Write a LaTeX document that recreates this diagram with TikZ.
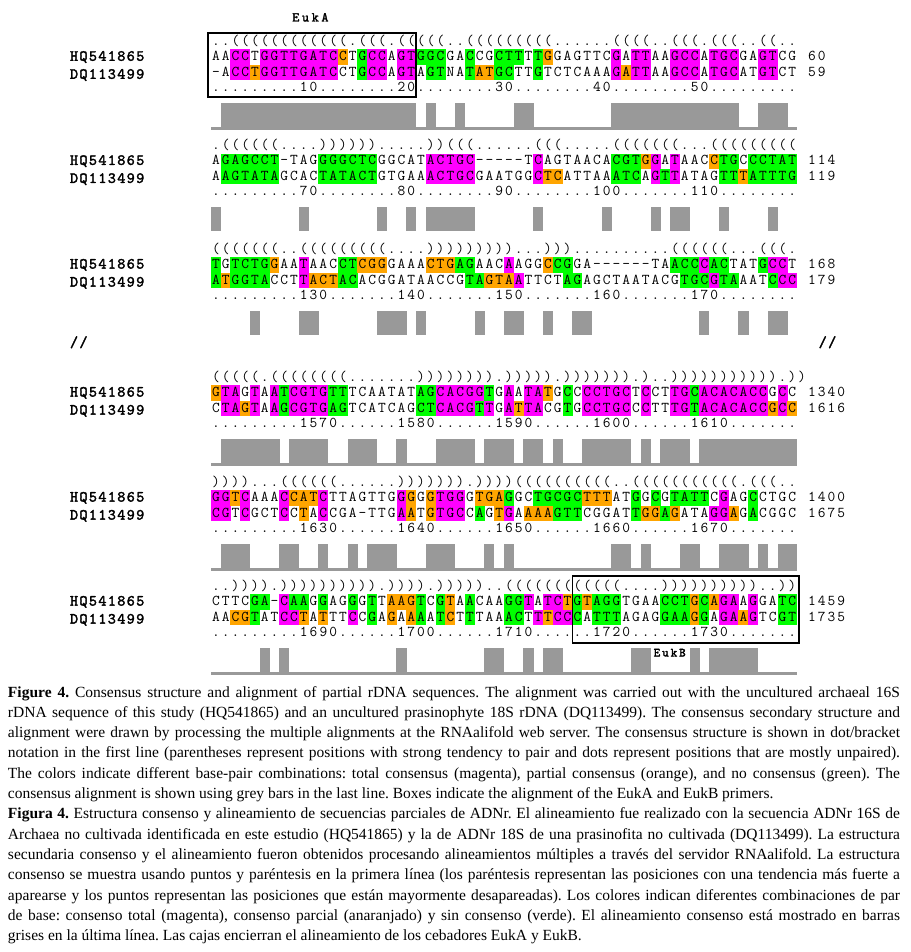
\documentclass[tikz,border=0pt]{standalone}
\usepackage{fontspec}
\setmainfont{Liberation Serif}
\newfontfamily\boldmono{lmmono10-regular.otf}[FakeBold=2.2]
\definecolor{magc}{RGB}{255,0,255}
\definecolor{orac}{RGB}{255,165,0}
\definecolor{grnc}{RGB}{0,255,0}
\definecolor{barc}{RGB}{153,153,153}
\newlength\cw \setlength\cw{9.77pt}
\def\xs{211}
\def\cwn{9.77}
\def\spacedend{\spacedend}
\def\spacedi#1{\ifx#1\spacedend\else\makebox[\cw]{#1}\expandafter\spacedi\fi}
\def\spaced#1{\spacedi#1\spacedend}
\def\spacedw#1#2{\setlength\cw{#1}\spacedi#2\spacedend}
\newcount\cc
\def\popc#1#2\popend{\def\pc{#1}\def\prest{#2}}
\def\nonecol{none}
\def\cellrow#1#2{%
  \edef\prest{#2..........}\cc=0
  \loop
    \expandafter\popc\prest\popend
    \if\pc m\def\cellcol{magc}\else\if\pc o\def\cellcol{orac}\else\if\pc g\def\cellcol{grnc}\else\def\cellcol{none}\fi\fi\fi
    \ifx\cellcol\nonecol\else
      \fill[fill=\cellcol] ({\xs+\cwn*\the\cc-0.1},{-(#1)}) rectangle ++(\cwn+0.2,-15.4);
    \fi
    \advance\cc by 1
  \ifnum\cc<60 \repeat}
\def\barrow#1#2#3{%
  \edef\prA{#2..........}\edef\prB{#3,,,,,,,,,,}\cc=0
  \loop
    \expandafter\popc\prA\popend \let\ca\pc \let\prA\prest
    \expandafter\popc\prB\popend \let\cb\pc \let\prB\prest
    \if\ca\cb
      \fill[barc] ({\xs+\cwn*\the\cc-0.15},{-(#1)}) rectangle ++(\cwn+0.3,-23.5);
    \fi
    \advance\cc by 1
  \ifnum\cc<60 \repeat}
\def\seqfont{\fontsize{15}{15}\selectfont\ttfamily}
\def\labfont{\fontsize{15.5}{16}\selectfont\boldmono}
\def\capfont{\fontsize{15.5}{20.3}\selectfont\frenchspacing}
\newcommand\drawblock[3]{%
  \cellrow{#1-7.7}{\Bca}%
  \cellrow{#1+7.7}{\Bcb}%
  \barrow{#1+46}{\Bsa}{\Bsb}%
  \ifnum#3=1 \fill[barc] (\xs,{-(#1+69.5)}) rectangle ({\xs+60*\cwn},{-(#1+73)});\fi
  \node[seqtxt] (#2struct) at (\xs,{-(#1+3.6-15.4)}) {\expandafter\spaced\expandafter{\Bst}};
  \node[seqtxt] (#2seqa) at (\xs,{-(#1+3.6)}) {\expandafter\spaced\expandafter{\Bsa}};
  \node[seqtxt] (#2seqb) at (\xs,{-(#1+3.6+15.4)}) {\expandafter\spaced\expandafter{\Bsb}};
  \node[seqtxt] (#2num) at (\xs,{-(#1+3.6+30.8)}) {\expandafter\spaced\expandafter{\Bnum}};
  \node[seqtxt] (#2ra) at ({\xs+61*\cwn},{-(#1+3.6)}) {\expandafter\spaced\expandafter{\Bra}};
  \node[seqtxt] (#2rb) at ({\xs+61*\cwn},{-(#1+3.6+15.4)}) {\expandafter\spaced\expandafter{\Brb}};
  \node[labtxt] (#2la) at (69.3,{-(#1+3.6)}) {\spacedw{9.46pt}{HQ541865}};
  \node[labtxt] (#2lb) at (69.3,{-(#1+3.6+18)}) {\spacedw{9.46pt}{DQ113499}};
}
\begin{document}
\begin{tikzpicture}[x=1pt,y=1pt,
  seqtxt/.style={anchor=base west, inner sep=0pt, outer sep=0pt, font=\seqfont, text=black},
  labtxt/.style={anchor=base west, inner sep=0pt, outer sep=0pt, font=\labfont, text=black},
  captxt/.style={anchor=base west, inner sep=0pt, outer sep=0pt, text width=892pt, align=justify, font=\capfont},
  primerbox/.style={draw=black, line width=1.1pt}]
\fill[white] (0,0) rectangle (910,-952);
\useasboundingbox (0,0) rectangle (910,-952);

% ---------- block 1
\def\Bst{..((((((((((((.(((.(((((..(((((((((......((((..(((.(((..((..}
\def\Bsa{AACCTGGTTGATCCTGCCAGTGGCGACCGCTTTTGGAGTTCGATTAAGCCATGCGAGTCG}
\def\Bca{..mm.mmmmmmmmo.gmm.mmggg..g..ggg.go......m.mm..mmm.mmm..mm..}
\def\Bsb{-ACCTGGTTGATCCTGCCAGTAGTNATATGCTTGTCTCAAAGATTAAGCCATGCATGTCT}
\def\Bcb{..mmommmmmmmm..gmm.mm.gg..googg..g.......momm..mmm.mmm..mm..}
\def\Bnum{.........10........20........30........40........50.........}
\def\Bra{60}\def\Brb{59}
\drawblock{57.2}{bA}{1}

% ---------- block 2
\def\Bst{.((((((....)))))).....))(((......(((.....(((((((...(((((((((}
\def\Bsa{AGAGCCT-TAGGGGCTCGGCATACTGC-----TCAGTAACACGTGGATAACCTGCCCTAT}
\def\Bca{.gggggg....gggggg.....mmmmm......m.......gggom.m...ogg.ggggg}
\def\Bsb{AAGTATAGCACTATACTGTGAAACTGCGAATGGCTCATTAAATCAGTTATAGTTTATTTG}
\def\Bcb{.gggggg....gggggg.....mmmmm......moo.....ggg.mgm....ggoggggg}
\def\Bnum{.........70........80........90........100.......110........}
\def\Bra{114}\def\Brb{119}
\drawblock{161.3}{bB}{0}

% ---------- block 3
\def\Bst{(((((((..(((((((((....)))))))))...)))..........((((((...(((.}
\def\Bsa{TGTCTGGAATAACCTCGGGAAACTGAGAACAAGGCCGGA------TAACCCACTATGCCT}
\def\Bca{g.ggggo..m...ggooo....ooogg...m...ogg..........gggmgg...gmm.}
\def\Bsb{ATGGTACCTTACTACACGGATAACCGTAGTAATTCTAGAGCTAATACGTGCGTAAATCCC}
\def\Bcb{gogggg...mooogg...........ggooom....gg..........gggmgg...gmm.}
\def\Bnum{.........130.......140.......150.......160.......170........}
\def\Bra{168}\def\Brb{179}
\drawblock{265}{bC}{0}

\node[labtxt] (slashl) at (69.3,-347) {\spacedw{9.46pt}{//}};
\node[labtxt] (slashr) at (818,-347) {\spacedw{9.46pt}{//}};

% ---------- block 4
\def\Bst{(((((.((((((((.......)))))))).))))).))))))).)..))))))))))).))}
\def\Bsa{GTAGTAATCGTGTTTCAATATAGCACGGTGAATATGCCCCTGCTCCTTGCACACACCGCC}
\def\Bca{omm.m.mgmmmmgg.......ggmmmmmg.m.mmo.g.mmmmm.m..mmgmmmmmmm.m.}
\def\Bsb{CTAGTAAGCGTGAGTCATCAGCTCACGTTGATTACGTGCCTGCCCTTTGTACACACCGCC}
\def\Bcb{.mmom.mgmmmmgg.......ggmmmmgm.momm..g.mmmmm.m..mmgmmmmmmmomo}
\def\Bnum{.........1570......1580......1590......1600......1610.......}
\def\Bra{1340}\def\Brb{1616}
\drawblock{393}{bD}{1}

% ---------- block 5
\def\Bst{))))...((((((......))))))).))))((((((((((..(((((((((((.(((..}
\def\Bsa{GGTCAAACCATCTTAGTTGGGGGTGGGTGAGGCTGCGCTTTATGGCGTATTCGAGCCTGC}
\def\Bca{mmom...mooom.......mo.ommm.ooog..gggggooo..g.g.gggg.m..g....}
\def\Bsb{CGTCGCTCCTACCGA-TTGAATGTGCCAGTGAAAAGTTCGGATTGGAGATAGGAGACGGC}
\def\Bcb{mm.m...m.o.m.......mo.ommm.g.om.oooggg.....googo...mmo.g....}
\def\Bnum{.........1630......1640......1650......1660......1670.......}
\def\Bra{1400}\def\Brb{1675}
\drawblock{498}{bE}{1}

% ---------- block 6
\def\Bst{..)))).)))))))))).)))).)))))..((((((((((((....))))))))))..))}
\def\Bsa{CTTCGA-CAAGGAGGGTTAAGTCGTAACAAGGTATCTGTAGGTGAACCTGCAGAAGGATC}
\def\Bca{....gg.mgg.g..g.g.ooog.go.g...ggm.mmogoggg....gggogomm.m..gg}
\def\Bsb{AACGTATCCTATTTCCGAGAAAATCTTTAAACTTTCCCATTTAGAGGAAGGAGAAGTCGT}
\def\Bcb{..oog..mmo.o..m.g.o.og.go.g...gg.mommg.ggg....gggog.mmom..gg}
\def\Bnum{.........1690......1700......1710......1720......1730.......}
\def\Bra{1459}\def\Brb{1735}
\drawblock{602}{bF}{1}

% primer boxes
\draw[primerbox] (208,-33) rectangle (416,-97);
\draw[primerbox] (572.7,-576) rectangle (799,-643);
\node[labtxt, font=\fontsize{13.5}{14}\selectfont\boldmono] (euka) at (291,-21.5) {\spacedw{9.7pt}{EukA}};
\node[labtxt, font=\fontsize{12.5}{13}\selectfont\boldmono] (eukb) at (652.7,-656.5) {\spacedw{8.5pt}{EukB}};

% caption
\node[captxt] (capen) at (8,-697) {\textbf{Figure 4.} Consensus structure and alignment of partial rDNA sequences. The alignment was carried out with the uncultured archaeal 16S\linebreak rDNA sequence of this study (HQ541865) and an uncultured prasinophyte 18S rDNA (DQ113499). The consensus secondary structure and\linebreak alignment were drawn by processing the multiple alignments at the RNAalifold web server. The consensus structure is shown in dot/bracket\linebreak notation in the first line (parentheses represent positions with strong tendency to pair and dots represent positions that are mostly unpaired).\linebreak The colors indicate different base-pair combinations: total consensus (magenta), partial consensus (orange), and no consensus (green). The\linebreak consensus alignment is shown using grey bars in the last line. Boxes indicate the alignment of the EukA and EukB primers.};
\node[captxt] (capes) at (8,-818.8) {\textbf{Figura 4.} Estructura consenso y alineamiento de secuencias parciales de ADNr. El alineamiento fue realizado con la secuencia ADNr 16S de\linebreak Archaea no cultivada identificada en este estudio (HQ541865) y la de ADNr 18S de una prasinofita no cultivada (DQ113499). La estructura\linebreak secundaria consenso y el alineamiento fueron obtenidos procesando alineamientos múltiples a través del servidor RNAalifold. La estructura\linebreak consenso se muestra usando puntos y paréntesis en la primera línea (los paréntesis representan las posiciones con una tendencia más fuerte a\linebreak aparearse y los puntos representan las posiciones que están mayormente desapareadas). Los colores indican diferentes combinaciones de par\linebreak de base: consenso total (magenta), consenso parcial (anaranjado) y sin consenso (verde). El alineamiento consenso está mostrado en barras\linebreak grises en la última línea. Las cajas encierran el alineamiento de los cebadores EukA y EukB.};
\end{tikzpicture}
\end{document}
